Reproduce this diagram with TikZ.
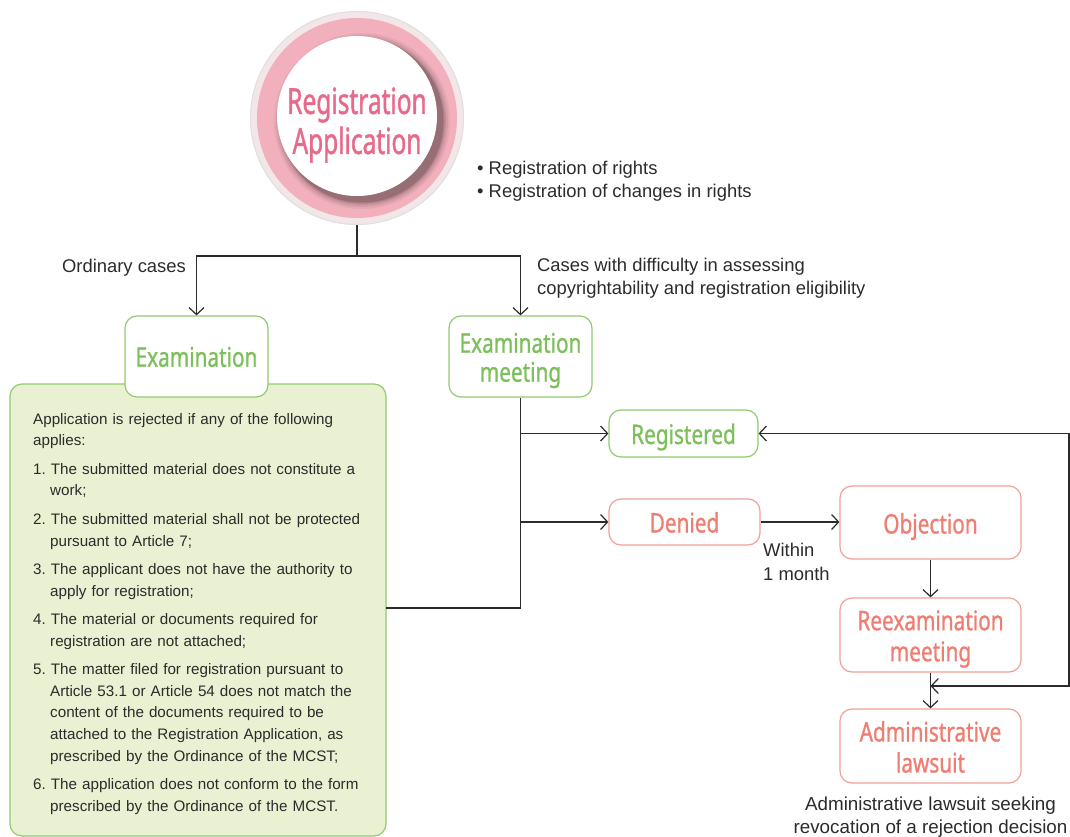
\documentclass[tikz,border=0pt]{standalone}
\usepackage{fontspec}
\setmainfont{Liberation Sans}
\newfontfamily\boxfont[FakeStretch=0.77,FakeBold=0.9]{Noto Sans}
\newfontfamily\titlefont[FakeStretch=0.68,FakeBold=1.1]{Noto Sans}
\usetikzlibrary{arrows.meta}
\definecolor{gstroke}{HTML}{8FCB70}
\definecolor{gtext}{HTML}{7DC05B}
\definecolor{gfill}{HTML}{EAF1D2}
\definecolor{rstroke}{HTML}{F0A097}
\definecolor{rtext}{HTML}{EF7E72}
\definecolor{ring}{HTML}{F2B0BC}
\definecolor{halo}{HTML}{F3E6E8}
\definecolor{ttext}{HTML}{E86A8B}
\definecolor{ink}{HTML}{2B2B2B}
\tikzset{
  gbox/.style={draw=gstroke, line width=1.2pt, fill=white, rounded corners=12pt, inner sep=0pt},
  rbox/.style={draw=rstroke, line width=1.2pt, fill=white, rounded corners=12pt, inner sep=0pt},
  gtxt/.style={align=center, inner sep=0pt, text=gtext, font=\boxfont\fontsize{27}{29}\selectfont},
  rtxt/.style={align=center, inner sep=0pt, text=rtext, font=\boxfont\fontsize{27}{31}\selectfont},
  lbl/.style={text=ink, inner sep=0pt, font=\fontsize{18.4}{23}\selectfont},
  conn/.style={draw=ink, line width=1.2pt},
  arr/.style={conn, -{Straight Barb[length=7pt,width=15pt]}},
  arrboth/.style={conn, {Straight Barb[length=7pt,width=15pt]}-{Straight Barb[length=7pt,width=15pt]}}
}
\begin{document}
\begin{tikzpicture}[x=1pt,y=-1pt]
\useasboundingbox (0,0) rectangle (1070,837);
% title circle
\fill[halo] (357,118) circle (107);
\draw[draw=black!12, line width=1pt] (357,118) circle (106.5);
\fill[ring] (357,118) circle (100);
\foreach \o/\r in {0.08/88,0.10/86,0.14/84,0.18/82.5,0.25/81.5} {
  \fill[black!65!ring, opacity=\o] (362,121) circle (\r);
}
\fill[white] (357,116) circle (80);
\node[circle, minimum size=214pt, inner sep=0pt] (app) at (357,118) {};
\node[align=center, inner sep=0pt, text=ttext, font=\titlefont\fontsize{36}{40}\selectfont] (appT) at (357,125) {Registration\\Application};
% labels
\node[lbl, align=left, anchor=west] (bul) at (477,181) {• Registration of rights\\• Registration of changes in rights};
\node[lbl, anchor=center] (ord) at (124,268) {Ordinary cases};
\node[lbl, align=left, anchor=west] (diff) at (537,278) {Cases with difficulty in assessing\\copyrightability and registration eligibility};
% criteria box
\node[draw=gstroke, line width=1.2pt, fill=gfill, rounded corners=12pt, minimum width=376pt, minimum height=452pt, inner sep=0pt] (crit) at (198,610) {};
\node[anchor=north west, inner sep=0pt, text width=360pt, align=left, text=ink, font=\fontsize{15.2}{21.6}\selectfont] (crittext) at (33,413) {\frenchspacing\setlength{\parskip}{6.9pt}%
Application is rejected if any of the following\newline applies:\par
\hangindent=17pt\hangafter=1 1. The submitted material does not constitute a\newline work;\par
\hangindent=17pt\hangafter=1 2. The submitted material shall not be protected\newline pursuant to Article 7;\par
\hangindent=17pt\hangafter=1 3. The applicant does not have the authority to\newline apply for registration;\par
\hangindent=17pt\hangafter=1 4. The material or documents required for\newline registration are not attached;\par
\hangindent=17pt\hangafter=1 5. The matter filed for registration pursuant to\newline Article 53.1 or Article 54 does not match the\newline content of the documents required to be\newline attached to the Registration Application, as\newline prescribed by the Ordinance of the MCST;\par
\hangindent=17pt\hangafter=1 6. The application does not conform to the form\newline prescribed by the Ordinance of the MCST.\par};
% boxes
\node[gbox, minimum width=143pt, minimum height=81pt] (exam) at (196.5,356.5) {};
\node[gtxt] (examT) at ([yshift=-3.5pt]exam.center) {Examination\vphantom{g}};
\node[gbox, minimum width=143pt, minimum height=81pt] (meet) at (520.5,356.5) {};
\node[gtxt] (meetT) at ([yshift=-4pt]meet.center) {Examination\\meeting};
\node[gbox, minimum width=149pt, minimum height=47pt] (reg) at (683.5,433.5) {};
\node[gtxt] (regT) at ([yshift=-3.5pt]reg.center) {Registered};
\node[rbox, minimum width=151pt, minimum height=46pt] (den) at (684.5,522) {};
\node[rtxt] (denT) at ([yshift=-3.5pt]den.center) {Denied\vphantom{g}};
\node[rbox, minimum width=181pt, minimum height=73pt] (obj) at (930.5,522.5) {};
\node[rtxt] (objT) at ([yshift=-4pt]obj.center) {Objection};
\node[rbox, minimum width=181pt, minimum height=74pt] (reex) at (930.5,635) {};
\node[rtxt] (reexT) at ([yshift=-4pt]reex.center) {Reexamination\\meeting};
\node[rbox, minimum width=181pt, minimum height=74pt] (adm) at (930.5,746) {};
\node[rtxt] (admT) at ([yshift=-4pt]adm.center) {Administrative\\lawsuit\vphantom{g}};
\node[lbl, align=left, anchor=north west, font=\fontsize{18.4}{24}\selectfont] (within) at (763,543) {Within\\1 month};
\node[lbl, align=center, font=\fontsize{18.8}{23}\selectfont] (cap) at (930.5,817) {Administrative lawsuit seeking\\revocation of a rejection decision};
% connectors
\coordinate (split) at (357,256);
\coordinate (cj) at (386,608);
\coordinate (lj) at (930.5,686);
\coordinate (rc) at (1069,686);
\draw[conn] (app.south) -- (split);
\draw[arr] (split) -| (exam.north);
\draw[arr] (split) -| (meet.north);
\draw[conn] (meet.south) |- (cj);
\draw[arr] (meet.south |- reg.west) -- (reg.west);
\draw[arr] (meet.south |- den.west) -- (den.west);
\draw[arr] (den.east) -- (obj.west |- den.east);
\draw[arr] (obj.south) -- (reex.north);
\draw[arr] (reex.south) -- (adm.north);
\draw[arrboth] (lj) -- (rc) |- (reg.east);
\end{tikzpicture}
\end{document}
